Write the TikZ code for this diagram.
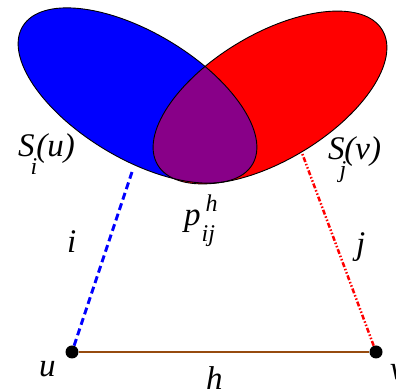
\documentclass[tikz,border=0pt]{standalone}
\usepackage{fontspec}
\setmainfont{Liberation Serif}
\definecolor{myblue}{RGB}{0,0,255}
\definecolor{myred}{RGB}{255,0,0}
\definecolor{mypurple}{RGB}{136,0,136}
\definecolor{mybrown}{RGB}{150,75,15}
\newcommand{\lblsub}[2]{\raisebox{#1}{\fontsize{24}{24}\selectfont #2}}
\begin{document}
\begin{tikzpicture}[x=1pt,y=1pt,
  lbl/.style={font=\fontsize{33}{38}\selectfont\itshape, inner sep=0pt, anchor=base west},
  outline/.style={draw=black, line width=0.9pt},
  dot/.style={circle, fill=black, inner sep=0pt, minimum size=13pt},
  bluedash/.style={myblue, line width=3pt, dash pattern=on 7pt off 4pt},
  reddash/.style={myred, line width=2.5pt, dash pattern=on 5pt off 2pt on 1.5pt off 2pt on 1.5pt off 2pt},
  blueell/.style={rotate around={-31:(137.5,294.5)}},
  redell/.style={rotate around={31:(270,292.5)}}]
\useasboundingbox (0,0) rectangle (396,390);
% ellipses
\fill[myblue, blueell] (137.5,294.5) ellipse [x radius=134, y radius=63];
\fill[myred, redell] (270,292.5) ellipse [x radius=131, y radius=63];
\begin{scope}
  \clip[blueell] (137.5,294.5) ellipse [x radius=134, y radius=63];
  \fill[mypurple, redell] (270,292.5) ellipse [x radius=131, y radius=63];
\end{scope}
\draw[outline, blueell] (137.5,294.5) ellipse [x radius=134, y radius=63];
\draw[outline, redell] (270,292.5) ellipse [x radius=131, y radius=63];
% vertices
\node[dot] (u) at (72,38) {};
\node[dot] (v) at (376,38) {};
\coordinate (bi) at (133,221);
\coordinate (rj) at (302,237);
\draw[mybrown, line width=2pt] (u) -- (v);
\draw[bluedash] (u) -- (bi);
\draw[reddash] (v) -- (rj);
% labels
\node[lbl] (Si) at (18,233) {S\kern-4pt\lblsub{-18pt}{i}\kern-1pt(u)};
\node[lbl] (Sj) at (328,230) {S\kern-5pt\lblsub{-18pt}{j}\kern-2pt(v)};
\node[lbl] (li) at (67,137) {i};
\node[lbl] (lj) at (356,135) {j};
\node[lbl] (p) at (184,164) {p\kern1pt\rlap{\kern4pt\lblsub{14pt}{h}}\lblsub{-16pt}{ij}};
\node[lbl] (lu) at (39,13) {u};
\node[lbl] (lh) at (206,0) {h};
\node[lbl] (lv) at (390,10) {v};
\end{tikzpicture}
\end{document}
